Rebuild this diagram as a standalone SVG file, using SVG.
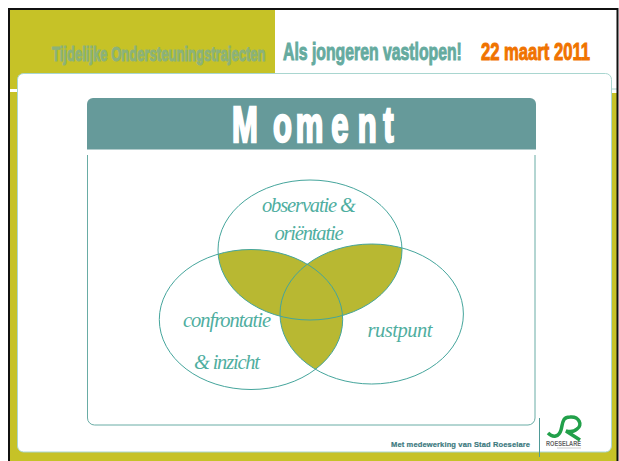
<svg xmlns="http://www.w3.org/2000/svg" width="619" height="461" viewBox="0 0 619 461">
<style>
.e{fill:none;stroke:#45a59c;stroke-width:1}
.f{fill:#b8b832}
.h{font-family:"Liberation Sans",Arial,sans-serif;font-weight:700}
.l{font-family:"Liberation Serif",serif;font-style:italic;font-size:20.500px;fill:#4fae9f}
</style>
<defs>
<clipPath id="ct"><ellipse cx="310" cy="250" rx="92" ry="70"/></clipPath>
<clipPath id="cl"><ellipse cx="251" cy="319.500" rx="91.700" ry="70"/></clipPath>
</defs>
<rect width="619" height="461" fill="#fff"/>
<g id="background">
<rect x="10" y="10" width="265" height="83" fill="#c6c227"/>
<rect x="10" y="93" width="607" height="368" fill="#c6c227"/>
<rect x="10" y="89" width="607" height="3" fill="#fff"/>
<line x1="275" y1="89" x2="617" y2="89" stroke="#a9d6d0" stroke-width="1"/>
<path d="M9 461V9H617.500V461" fill="none" stroke="#111" stroke-width="2"/>
<rect x="17.500" y="73.500" width="594" height="378.500" rx="6" fill="#fff" stroke="#a9d6d0" stroke-width="1"/>
</g>
<g id="header">
<text class="h" transform="translate(52,61) scale(.6216,1)" font-size="21" fill="#8bb27a" stroke="#8bb27a" stroke-width="1">Tijdelijke Ondersteuningstrajecten</text>
<text class="h" transform="translate(283,60) scale(.658,1)" font-size="24" fill="#65ab9f" stroke="#65ab9f" stroke-width="1">Als jongeren vastlopen!</text>
<text class="h" transform="translate(481,60) scale(.693,1)" font-size="24" fill="#f07300" stroke="#f07300" stroke-width="1">22 maart 2011</text>
</g>
<g id="title">
<path d="M87 149.500V104a6 6 0 0 1 6-6H530a6 6 0 0 1 6 6V149.500Z" fill="#669a9a"/>
<text class="h" transform="translate(232,142) scale(.62,1)" x="0 66 103 160 203 244" y="0" font-size="50" fill="#fff" stroke="#fff" stroke-width="2.500">Moment</text>
</g>
<g id="frame">
<path d="M87.500 155V418a7 7 0 0 0 7 7H528a7 7 0 0 0 7-7V155" fill="none" stroke="#69aca5" stroke-width="1"/>
</g>
<g id="overlaps">
<g clip-path="url(#ct)"><ellipse class="f" cx="251" cy="319.500" rx="91.700" ry="70"/><ellipse class="f" cx="371.700" cy="314" rx="91.700" ry="70"/></g>
<g clip-path="url(#cl)"><ellipse class="f" cx="371.700" cy="314" rx="91.700" ry="70"/></g>
</g>
<g id="node-observatie">
<ellipse class="e" cx="310" cy="250" rx="92" ry="70"/>
<text class="l" x="309" y="212" text-anchor="middle" textLength="94">observatie  &amp;</text>
<text class="l" x="309" y="240" text-anchor="middle" textLength="69">oriëntatie</text>
</g>
<g id="node-confrontatie">
<ellipse class="e" cx="251" cy="319.500" rx="91.700" ry="70"/>
<text class="l" x="227" y="327" text-anchor="middle" textLength="88">confrontatie</text>
<text class="l" x="227" y="369" text-anchor="middle" textLength="66">&amp; inzicht</text>
</g>
<g id="node-rustpunt">
<ellipse class="e" cx="371.700" cy="314" rx="91.700" ry="70"/>
<text class="l" x="400" y="337" text-anchor="middle" textLength="65">rustpunt</text>
</g>
<g id="footer">
<text class="h" x="391" y="447" font-size="7.500" fill="#3c7a80" stroke="#3c7a80" stroke-width=".2" textLength="139">Met medewerking van Stad Roeselare</text>
<line x1="539.500" y1="418" x2="539.500" y2="457" stroke="#4f9a97" stroke-width="1"/>
<path d="M548 433C553 438 559 437 561 430C563 423 562 417 570 417C579 416 583 425 577 429C574 432 570 432 566 431L580 440" fill="none" stroke="#22a04a" stroke-width="3.500"/>
<text class="h" x="546" y="446" font-size="6.500" fill="#666" textLength="35" lengthAdjust="spacingAndGlyphs">ROESELARE</text>
<line x1="557" y1="448" x2="581" y2="448" stroke="#ccc" stroke-width="1"/>
</g>
</svg>
